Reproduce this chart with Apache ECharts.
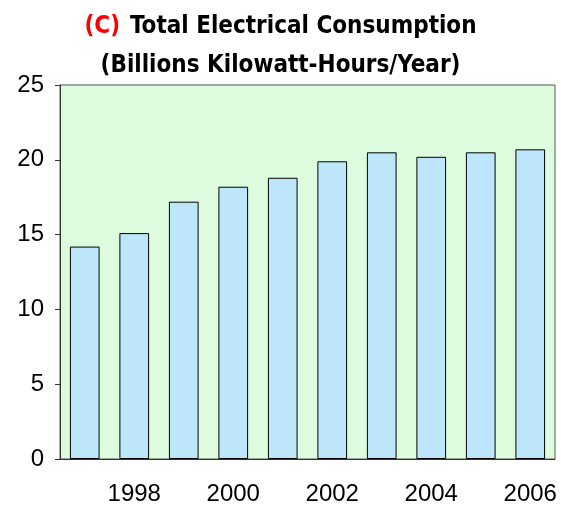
<!DOCTYPE html>
<html><head><meta charset="utf-8">
<script src="https://cdn.jsdelivr.net/npm/echarts@6/dist/echarts.min.js"></script>
<style>html,body{margin:0;padding:0;background:#fff}#c{width:561px;height:506px}</style>
</head><body><div id="c"></div>
<script>
const years = ['1997','1998','1999','2000','2001','2002','2003','2004','2005','2006'];
const consumption = [14.2, 15.1, 17.2, 18.2, 18.8, 19.9, 20.5, 20.2, 20.5, 20.7];
const yTicks = [0, 5, 10, 15, 20, 25];
const titleLine1 = 'Total Electrical Consumption';
const titleLine2 = '(Billions Kilowatt-Hours/Year)';

const chart = echarts.init(document.getElementById('c'), null, {renderer: 'canvas'});
const showOdd = (i) => i % 2 === 1;
chart.setOption({
  animation: false,
  title: {
    text: '{r|(C)}{s| }{k|' + titleLine1 + '}\n{k|' + titleLine2 + '}',
    left: 'center',
    top: 2,
    padding: [5, 22, 5, 5],
    textStyle: {
      rich: {
        r: {color: '#ff0000', fontSize: 24, fontFamily: 'DejaVu Sans Condensed', fontWeight: 'bold', lineHeight: 39},
        s: {fontSize: 24, fontFamily: 'DejaVu Sans Condensed', width: 10, lineHeight: 39},
        k: {color: '#000', fontSize: 24, fontFamily: 'DejaVu Sans Condensed', fontWeight: 'bold', lineHeight: 39}
      }
    }
  },
  grid: {left: 60, right: 6, top: 85, bottom: 47, show: true, backgroundColor: '#ddfcdd', borderColor: '#555', borderWidth: 1},
  xAxis: {
    type: 'category',
    data: years,
    axisLine: {lineStyle: {color: '#333', width: 1}},
    axisTick: {alignWithLabel: true, interval: showOdd, length: 5, lineStyle: {color: '#333'}},
    axisLabel: {interval: showOdd, color: '#000', fontSize: 24, fontFamily: 'Liberation Sans', margin: 23}
  },
  yAxis: {
    type: 'value',
    min: yTicks[0], max: yTicks[yTicks.length - 1], interval: 5,
    axisLine: {show: true, lineStyle: {color: '#333', width: 1}},
    axisTick: {show: true, length: 5, lineStyle: {color: '#333'}},
    splitLine: {show: false},
    axisLabel: {color: '#000', fontSize: 24, fontFamily: 'Liberation Sans', margin: 16}
  },
  series: [{
    type: 'bar',
    data: consumption,
    barCategoryGap: '40%',
    itemStyle: {color: '#bee6fa', borderColor: '#000', borderWidth: 1}
  }]
});
</script></body></html>
